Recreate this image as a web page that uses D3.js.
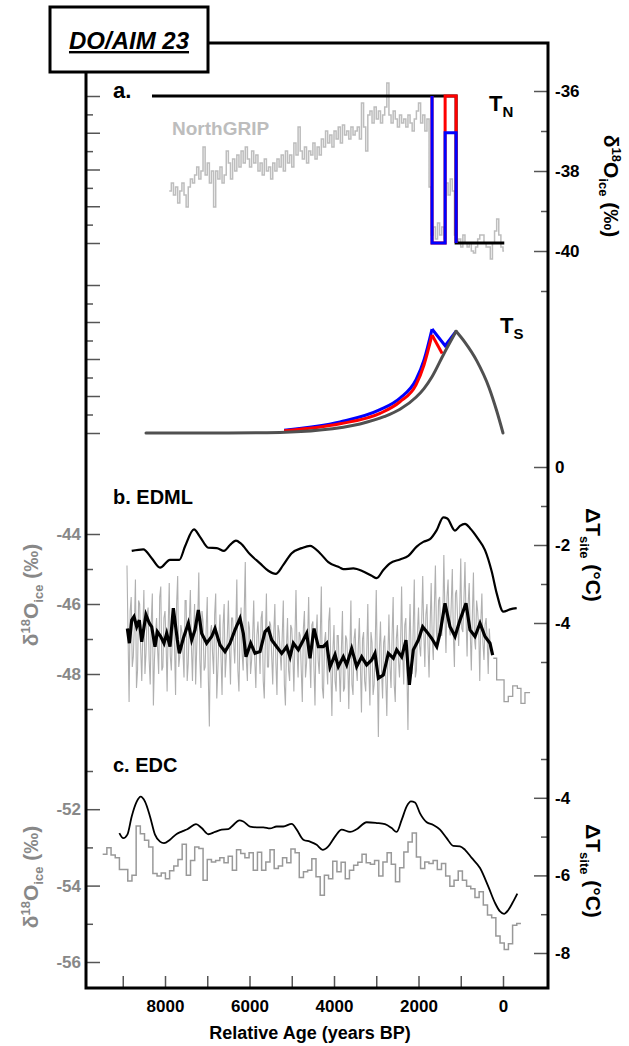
<!DOCTYPE html>
<html>
<head>
<meta charset="utf-8">
<script src="https://cdn.jsdelivr.net/npm/d3@7"></script>
<style>
  html, body { margin: 0; padding: 0; background: #fff; }
  svg { display: block; font-family: "Liberation Sans", Arial, sans-serif; font-weight: bold; }
</style>
</head>
<body>
<svg id="chart" width="629" height="1046"></svg>
<script>
// ---- panel a: NorthGRIP d18O (50-yr steps, 7900 -> 0 yr) ----
const ngripVals = [
  -38.5, -38.3, -38.6, -38.4, -38.8, -38.5, -38.3, -38.6, -38.9, -38.4, -38.2, -38.3,
  -38.1, -37.9, -38.2, -38.0, -37.4, -38.1, -37.8, -38.3, -38.0, -38.9,
  -38.0, -38.2, -37.9, -38.3, -38.1, -37.5, -37.8, -38.2, -37.7, -38.0,
  -37.6, -37.9, -37.5, -37.8, -37.4, -37.7, -37.9, -37.5, -37.8, -37.6,
  -38.0, -37.8, -38.1, -37.7, -38.0, -37.9, -38.2, -37.8, -38.0, -37.7,
  -37.9, -37.6, -38.0, -37.5, -37.8, -37.6, -37.9, -37.3, -37.6, -36.9,
  -37.5, -37.7, -37.4, -37.8, -37.5, -37.6, -37.3, -37.7, -37.4, -37.6,
  -37.2, -37.4, -37.0, -37.3, -37.1, -37.4, -37.0, -37.2, -36.9, -37.3,
  -36.85, -37.1, -37.0, -37.2, -36.9, -37.1, -37.0, -36.9, -37.2, -36.3,
  -36.9, -37.5, -36.6, -36.5, -36.8, -36.4, -36.7, -36.5, -36.8, -36.6,
  -36.4, -35.8, -36.6, -36.8, -36.5, -36.7, -36.9, -36.6, -36.8, -36.7,
  -36.9, -36.6, -36.8, -37.0, -36.7, -36.5, -36.3, -36.8, -36.6, -37.0,
  -36.7, -38.4, -39.6, -39.4, -39.7, -39.3, -39.6, -39.4, -39.7, -38.3,
  -38.6, -38.2, -38.5, -39.6, -39.8, -39.7, -39.9, -39.6, -39.8, -39.9,
  -39.8, -40.0, -40.05, -39.9, -39.7, -39.6, -39.6, -39.8, -39.9, -39.9,
  -40.2, -39.8, -39.5, -39.2, -39.6, -39.9, -40.0
];
const ngripYears = d3.range(7900, -1, -50);

// T_N scenarios (age, level)
const tnBase = [[8308, 8], [1110, 8], [1110, 0], [-30, 0]];
const tnRed  = [[1680, 8], [1680, 0], [1370, 0], [1370, 8], [1110, 8], [1110, 0]];
const tnBlue = [[1680, 8], [1680, 0], [1370, 0], [1370, 6], [1110, 6], [1110, 0]];

// T_S responses
const tsGrayRiseYears = [8450, 6500, 5280, 4330, 3385, 2817, 2438, 2059, 1870, 1680, 1396, 1110];
const tsGrayRiseVals  = [0, 0, 0.03, 0.16, 0.49, 0.88, 1.28, 1.93, 2.4, 3.04, 4.3, 5.5];
const tsGrayFallYears = [1110, 900, 620, 330, 150, 0];
const tsGrayFallVals  = [5.5, 4.9, 3.9, 2.45, 1.2, 0];
const tsBlueYears = [5180, 3858, 2911, 2438, 2059, 1870, 1680];
const tsBlueVals  = [0.15, 0.6, 1.26, 1.89, 2.88, 3.95, 5.62];
const tsBlueTail  = [[1680, 5.62], [1370, 4.72], [1110, 5.5]];
const tsRedYears = [5180, 3858, 2911, 2438, 2059, 1870, 1680];
const tsRedVals  = [0.12, 0.5, 1.06, 1.69, 2.6, 3.68, 5.3];
const tsRedTail  = [[1680, 5.3], [1440, 4.3]];

// ---- panel b: EDML ----
// raw record, read at 50-yr marks (8900 -> 250) and at the half-way marks (8875 -> 275)
const edmlRawYears = d3.range(8900, 249, -50);
const edmlRawVals = [
  -44.9, -48.8, -45.8, -47.5, -45.3, -47.9, -46.0, -48.2, -45.6, -47.4,
  -46.1, -48.3, -45.7, -47.6, -46.4, -48.0, -45.5, -47.8, -46.2, -48.5,
  -45.4, -47.9, -46.3, -48.6, -45.2, -47.5, -46.8, -48.1, -45.9, -47.7,
  -45.6, -48.2, -46.0, -47.3, -45.1, -48.4, -46.5, -47.8, -45.8, -49.5,
  -46.6, -48.0, -45.7, -47.9, -46.3, -48.6, -46.0, -47.5, -45.9, -48.3,
  -46.4, -47.7, -45.3, -48.5, -46.1, -47.9, -44.8, -48.2, -46.7, -47.6,
  -45.9, -48.4, -46.5, -48.0, -46.2, -48.7, -45.7, -47.8, -46.6, -48.3,
  -46.0, -48.6, -46.8, -47.9, -45.9, -48.9, -46.4, -48.2, -46.7, -48.5,
  -45.6, -48.1, -46.9, -48.8, -46.2, -47.7, -45.8, -48.4, -46.5, -48.9,
  -46.3, -48.0, -45.5, -48.7, -46.8, -48.3, -46.1, -49.2, -46.6, -48.5,
  -46.9, -48.8, -46.2, -48.4, -47.0, -49.0, -45.9, -48.6, -46.7, -48.2,
  -46.4, -49.1, -46.8, -48.5, -46.0, -48.9, -47.1, -48.3, -45.6, -49.8,
  -46.5, -48.7, -46.9, -49.2, -46.3, -48.4, -45.8, -48.8, -46.6, -48.1,
  -45.5, -48.3, -46.4, -49.6, -46.0, -48.0, -45.3, -47.9, -46.1, -47.5,
  -45.2, -47.8, -46.0, -48.1, -45.4, -47.6, -44.9, -47.3, -45.8, -46.9,
  -44.6, -47.4, -45.3, -46.9, -45.0, -47.8, -45.6, -47.2, -44.7, -46.8,
  -44.8, -47.5, -45.4, -47.9, -45.1, -47.3, -46.2, -48.2, -45.7, -47.6,
  -46.4, -48.0, -47.2, -47.4
];
const edmlMidYears = d3.range(8875, 274, -50);
const edmlMidVals = [
  -46.9, -46.2, -47.8, -46.6, -48.4, -45.9, -47.3, -46.8, -48.0, -46.3,
  -47.6, -46.5, -48.9, -46.9, -47.3, -45.8, -47.9, -46.4, -47.1, -46.7,
  -47.5, -46.8, -47.2, -46.0, -47.8, -46.6, -47.4, -45.9, -48.2, -46.5,
  -47.2, -46.9, -48.3, -46.4, -47.6, -46.2, -47.9, -46.7, -48.1, -46.8,
  -47.4, -46.3, -48.7, -47.0, -47.5, -46.6, -48.1, -46.9, -47.3, -46.4,
  -47.1, -46.7, -47.9, -46.8, -47.4, -46.2, -47.6, -46.5, -48.0, -46.9,
  -47.6, -46.9, -47.2, -46.4, -48.2, -47.0, -47.8, -46.5, -47.5, -46.8,
  -47.7, -46.6, -47.4, -46.9, -48.3, -47.2, -47.9, -46.6, -47.4, -47.0,
  -47.3, -46.8, -47.9, -46.7, -48.1, -47.0, -47.5, -46.6, -47.8, -46.9,
  -47.6, -46.9, -48.4, -47.1, -47.7, -46.5, -47.9, -47.3, -48.2, -46.9,
  -47.9, -47.3, -48.5, -46.9, -47.6, -47.4, -48.3, -47.0, -47.8, -47.2,
  -47.8, -47.0, -48.2, -47.4, -47.9, -46.8, -48.6, -47.2, -47.7, -47.3,
  -47.9, -47.1, -48.1, -47.5, -47.8, -46.9, -48.3, -47.0, -47.6, -47.2,
  -47.4, -46.6, -47.9, -47.2, -47.5, -46.7, -48.1, -46.8, -47.2, -46.5,
  -46.8, -46.3, -47.2, -46.6, -47.0, -46.1, -46.8, -45.9, -46.9, -46.4,
  -46.3, -45.8, -46.6, -46.0, -46.9, -45.7, -46.4, -46.2, -46.7, -45.9,
  -46.4, -46.0, -46.8, -46.3, -47.0, -45.9, -46.7, -46.5, -47.1, -46.6,
  -47.0, -46.7, -47.3
];
// coarse part of the record at the young end
const edmlLowYears = [230, 150, -25, -125, -230, -340, -425, -520, -640];
const edmlLowVals  = [-47.55, -48.17, -48.79, -48.64, -48.34, -48.41, -48.84, -48.53, -48.53];

const edmlSmoothYears = [
  8891, 8844, 8788, 8734, 8670, 8608, 8552, 8450, 8371, 8315, 8237, 8181, 8102, 8024, 7960,
  7882, 7803, 7708, 7661, 7566, 7448, 7369, 7290, 7211, 7132, 7014, 6895, 6817, 6698, 6580,
  6462, 6343, 6225, 6146, 6083, 5972, 5870, 5751, 5633, 5555, 5475, 5356, 5238, 5120, 5041,
  4962, 4844, 4726, 4647, 4568, 4473, 4371, 4253, 4174, 4095, 3976, 3898, 3780, 3700, 3582,
  3464, 3345, 3227, 3108, 3030, 2951, 2833, 2715, 2596, 2517, 2399, 2296, 2217, 2123, 2004,
  1901, 1806, 1688, 1569, 1491, 1373, 1254, 1136, 1018, 876, 781, 663, 544, 426, 308, 245
];
const edmlSmoothVals = [
  -46.70, -47.12, -46.46, -46.36, -46.65, -46.46, -47.08, -46.31, -46.55, -46.65, -47.22, -46.79, -46.93, -47.12, -46.84,
  -47.22, -46.12, -47.03, -47.41, -46.98, -46.55, -47.03, -46.74, -46.17, -46.84, -47.12, -46.93, -46.70, -47.17, -47.36,
  -47.12, -46.74, -46.41, -46.84, -47.51, -47.12, -47.41, -47.36, -46.79, -46.70, -47.03, -47.22, -47.41, -47.22, -47.51,
  -47.12, -47.31, -47.03, -46.84, -47.55, -46.70, -47.22, -47.22, -47.12, -47.80, -47.45, -47.79, -47.51, -47.74, -47.27,
  -47.79, -47.51, -47.74, -47.60, -47.41, -48.12, -48.03, -47.41, -47.55, -47.31, -47.51, -47.03, -48.31, -47.31, -47.03,
  -46.65, -46.79, -46.98, -47.22, -46.84, -45.98, -46.65, -46.93, -46.46, -45.98, -46.74, -46.93, -46.55, -46.93, -47.12, -47.46
];

const edmlTYears = [
  8788, 8514, 8315, 8118, 7882, 7661, 7527, 7314, 7172, 6975, 6776, 6604, 6462, 6320, 6208,
  5988, 5751, 5555, 5380, 5200, 5001, 4765, 4568, 4331, 4135, 3858, 3780, 3543, 3307, 3108,
  2989, 2833, 2675, 2438, 2241, 2043, 1886, 1728, 1569, 1413, 1318, 1136, 1018, 899, 781,
  585, 426, 267, 149, -7, -166, -324
];
const edmlTVals = [
  -2.15, -2.11, -2.34, -2.58, -2.38, -2.38, -2.04, -1.60, -1.79, -2.07, -2.08, -2.15, -2.00, -1.89, -1.96,
  -2.24, -2.47, -2.66, -2.74, -2.51, -2.21, -2.08, -2.02, -2.21, -2.44, -2.58, -2.62, -2.60, -2.68, -2.79,
  -2.85, -2.64, -2.47, -2.37, -2.28, -2.04, -1.92, -1.85, -1.62, -1.29, -1.32, -1.63, -1.51, -1.46, -1.57,
  -1.85, -2.13, -2.68, -3.24, -3.71, -3.65, -3.62
];

// ---- panel c: EDC ----
const edcYears = d3.range(9475, -400, -99);
const edcVals = [
  -53.18, -53.01, -53.20, -53.27, -53.58, -53.58, -53.88, -53.73, -52.44, -52.64,
  -52.81, -52.99, -53.68, -53.75, -53.67, -53.82, -53.61, -53.49, -53.32, -52.92,
  -53.73, -53.34, -52.99, -53.03, -53.86, -53.32, -53.38, -53.34, -53.27, -53.40,
  -53.23, -53.60, -53.06, -53.16, -53.27, -53.14, -53.60, -53.13, -53.60, -53.38,
  -53.06, -53.55, -53.49, -53.27, -53.40, -53.04, -53.14, -53.79, -53.64, -53.60,
  -53.30, -53.77, -54.25, -53.73, -53.82, -53.36, -53.64, -53.39, -53.82, -53.60,
  -53.47, -53.39, -53.18, -53.40, -53.44, -53.34, -53.75, -53.38, -53.14, -53.44,
  -53.90, -53.53, -53.12, -52.86, -52.62, -53.25, -53.55, -53.38, -53.42, -53.34,
  -53.58, -53.42, -53.75, -54.02, -53.86, -53.62, -53.86, -54.02, -54.08, -54.31,
  -54.16, -54.51, -54.77, -54.84, -55.32, -55.50, -55.67, -55.52, -55.04, -54.99
];
const edcTYears = [
  9081, 8986, 8891, 8788, 8670, 8576, 8473, 8355, 8237, 8118, 8024, 7882, 7724, 7605, 7472,
  7266, 7132, 6975, 6817, 6659, 6501, 6383, 6241, 6146, 5988, 5830, 5673, 5515, 5357, 5200,
  5001, 4883, 4726, 4568, 4410, 4268, 4135, 3976, 3818, 3621, 3463, 3227, 2990, 2793, 2635,
  2517, 2398, 2280, 2178, 2083, 1964, 1806, 1649, 1491, 1333, 1176, 1018, 899, 741, 544,
  347, 189, 71, -24, -126, -229, -339
];
const edcTVals = [
  -4.91, -5.04, -4.95, -4.48, -4.10, -3.97, -4.10, -4.48, -4.95, -5.13, -5.17, -5.08, -4.93, -4.87, -4.81,
  -4.68, -4.78, -4.94, -4.88, -4.82, -4.81, -4.70, -4.58, -4.61, -4.74, -4.76, -4.76, -4.79, -4.74, -4.74,
  -4.67, -4.82, -5.08, -5.13, -5.21, -5.34, -5.25, -5.00, -4.82, -4.88, -4.81, -4.63, -4.65, -4.68, -4.78,
  -4.88, -4.57, -4.22, -4.09, -4.12, -4.40, -4.63, -4.70, -4.82, -5.04, -5.24, -5.25, -5.34, -5.55, -5.81,
  -6.29, -6.71, -6.93, -6.99, -6.89, -6.70, -6.47
];

// ---- tick values ----
const xMajor = [8000, 6000, 4000, 2000, 0];
const xMinor = [9000, 7000, 5000, 3000, 1000];
const ngMajor = [-36, -38, -40], ngMinor = [-37, -39, -41];
const edmlMajor = [-44, -46, -48], edmlMinor = [-45, -47, -49];
const edmlTMajor = [0, -2, -4], edmlTMinor = [-1, -3, -5];
const edcMajor = [-52, -54, -56], edcMinor = [-51, -53, -55];
const edcTMajor = [-4, -6, -8], edcTMinor = [-3, -5, -7];
const modelMajor = [0, 2, 4, 6, 8], modelMinor = [1, 3, 5, 7];

// ---- scales ----
const svg = d3.select("#chart");
const x = d3.scaleLinear().domain([9870, -1065]).range([86, 548]);
const yTN = d3.scaleLinear().domain([0, 8]).range([243, 96]);
const yTS = d3.scaleLinear().domain([0, 8]).range([433, 285]);
const yNG = d3.scaleLinear().domain([-36, -41]).range([91, 291]);
const yEdml = d3.scaleLinear().domain([-44, -49]).range([534, 709]);
const yEdmlT = d3.scaleLinear().domain([0, -5]).range([467, 662]);
const yEdc = d3.scaleLinear().domain([-51, -56]).range([771, 962]);
const yEdcT = d3.scaleLinear().domain([-3, -8]).range([759, 953]);

const FONT = '"Liberation Sans", Arial, sans-serif';
const GREY_LABEL = "#888";

function styleAxis(g, color) {
  g.attr("font-family", FONT).attr("font-size", 17).attr("font-weight", "bold");
  g.selectAll(".domain").remove();
  g.selectAll(".tick line").attr("stroke", "#555").attr("stroke-width", 1.5);
  g.selectAll(".tick text").attr("fill", color);
}

function vAxis(side, scale, major, minor, labelColor) {
  const left = side === "left";
  const gen = left ? d3.axisLeft : d3.axisRight;
  const tx = left ? 86 : 548;
  const g1 = svg.append("g").attr("transform", `translate(${tx},0)`)
    .call(gen(scale).tickValues(minor).tickSize(-7).tickSizeOuter(0).tickFormat(""));
  styleAxis(g1, labelColor);
  const g2 = svg.append("g").attr("transform", `translate(${tx},0)`)
    .call(gen(scale).tickValues(major).tickSize(-14).tickSizeOuter(0)
      .tickPadding(left ? 5 : 7)
      .tickFormat(labelColor ? d => String(d) : ""));
  styleAxis(g2, labelColor || "#000");
}

vAxis("left", yTN, modelMajor, modelMinor, null);
vAxis("left", yTS, modelMajor, modelMinor, null);
vAxis("left", yEdml, edmlMajor, edmlMinor, GREY_LABEL);
vAxis("left", yEdc, edcMajor, edcMinor, GREY_LABEL);
vAxis("right", yNG, ngMajor, ngMinor, "#000");
vAxis("right", yEdmlT, edmlTMajor, edmlTMinor, "#000");
vAxis("right", yEdcT, edcTMajor, edcTMinor, "#000");

const gx = svg.append("g").attr("transform", "translate(0,988)")
  .call(d3.axisBottom(x).tickValues(xMajor.concat(xMinor)).tickSize(-12).tickSizeOuter(0)
    .tickPadding(12).tickFormat(d => xMajor.includes(d) ? String(d) : ""));
styleAxis(gx, "#000");

// ---- line helpers ----
const pairs = (a, b) => d3.zip(a, b);
const lineOf = (ys, curve = d3.curveLinear) =>
  d3.line().x(d => x(d[0])).y(d => ys(d[1])).curve(curve);

function draw(data, gen, color, width, extra = {}) {
  const p = svg.append("path").datum(data).attr("d", gen)
    .attr("fill", "none").attr("stroke", color).attr("stroke-width", width)
    .attr("stroke-linejoin", "miter");
  Object.entries(extra).forEach(([k, v]) => p.attr(k, v));
  return p;
}

// panel a
const ngData = pairs(ngripYears, ngripVals);
ngData.push([-25, ngripVals[ngripVals.length - 1]]);
draw(ngData, lineOf(yNG, d3.curveStepAfter), "#bdbdbd", 1.5);

draw(tnBase, lineOf(yTN), "#000", 3);
draw(tnRed, lineOf(yTN), "#ff0000", 3);
draw(tnBlue, lineOf(yTN), "#0000ff", 3);

draw(pairs(tsBlueYears, tsBlueVals), lineOf(yTS, d3.curveMonotoneX), "#0000ff", 3);
draw(tsBlueTail, lineOf(yTS), "#0000ff", 3);
draw(pairs(tsRedYears, tsRedVals), lineOf(yTS, d3.curveMonotoneX), "#ff0000", 3);
draw(tsRedTail, lineOf(yTS), "#ff0000", 3);
draw(pairs(tsGrayRiseYears, tsGrayRiseVals), lineOf(yTS, d3.curveMonotoneX), "#505050", 3, {"stroke-linecap": "round"});
draw(pairs(tsGrayFallYears, tsGrayFallVals), lineOf(yTS, d3.curveMonotoneX), "#505050", 3, {"stroke-linecap": "round"});

// panel b
const edmlRaw = pairs(edmlRawYears, edmlRawVals)
  .concat(pairs(edmlMidYears, edmlMidVals))
  .sort((a, b) => b[0] - a[0]);
draw(edmlRaw, lineOf(yEdml), "#b0b0b0", 1.1);
draw(pairs(edmlLowYears, edmlLowVals), lineOf(yEdml, d3.curveStepAfter), "#a0a0a0", 1.3);
draw(pairs(edmlSmoothYears, edmlSmoothVals), lineOf(yEdml), "#000", 3.2);
draw(pairs(edmlTYears, edmlTVals), lineOf(yEdmlT, d3.curveMonotoneX), "#000", 2.2);

// panel c
const edcData = pairs(edcYears, edcVals);
edcData.push([-425, edcVals[edcVals.length - 1]]);
draw(edcData, lineOf(yEdc, d3.curveStepAfter), "#999", 1.5);
draw(pairs(edcTYears, edcTVals), lineOf(yEdcT, d3.curveMonotoneX), "#000", 1.8);

// ---- frame & title box ----
svg.append("path").attr("d", "M208,43H548V988H86V72")
  .attr("fill", "none").attr("stroke", "#000").attr("stroke-width", 3).attr("stroke-linecap", "square");
svg.append("rect").attr("x", 50).attr("y", 7).attr("width", 158).attr("height", 65)
  .attr("fill", "#fff").attr("stroke", "#000").attr("stroke-width", 3);
svg.append("text").attr("x", 129).attr("y", 49).attr("text-anchor", "middle")
  .attr("font-size", 24).attr("font-style", "italic").attr("text-decoration", "underline")
  .text("DO/AIM 23");

// ---- labels ----
function label(xp, yp, size, color, parts, rotate) {
  const t = svg.append("text").attr("font-size", size).attr("fill", color);
  if (rotate) {
    t.attr("transform", `translate(${xp},${yp}) rotate(${rotate})`).attr("text-anchor", "middle");
  } else {
    t.attr("x", xp).attr("y", yp);
  }
  parts.forEach(p => {
    const s = t.append("tspan").text(p.t);
    if (p.size) s.attr("font-size", p.size);
    if (p.dy) s.attr("dy", p.dy);
  });
  return t;
}

label(113, 98, 22, "#000", [{t: "a."}]);
label(172, 135, 19, "#bdbdbd", [{t: "NorthGRIP"}]);
label(489, 111, 22, "#000", [{t: "T"}, {t: "N", size: 15, dy: 6}]);
label(500, 333, 22, "#000", [{t: "T"}, {t: "S", size: 15, dy: 6}]);
label(113, 504, 20, "#000", [{t: "b. EDML"}]);
label(113, 772, 20, "#000", [{t: "c. EDC"}]);

const dTitle = [{t: "ΔT"}, {t: "site", size: 13, dy: 6}, {t: " (°C)", dy: -6}];
const dOTitle = [{t: "δ"}, {t: "18", size: 13, dy: -8}, {t: "O", dy: 8}, {t: "ice", size: 13, dy: 5}, {t: " (‰)", dy: -5}];
label(604, 186, 21, "#000", dOTitle, 90);
label(586, 555, 21, "#000", dTitle, 90);
label(586, 871, 21, "#000", dTitle, 90);
label(38, 595, 21, GREY_LABEL, dOTitle, -90);
label(38, 877, 21, GREY_LABEL, dOTitle, -90);

svg.append("text").attr("x", 310).attr("y", 1039).attr("text-anchor", "middle")
  .attr("font-size", 18).text("Relative Age (years BP)");
</script>
</body>
</html>
